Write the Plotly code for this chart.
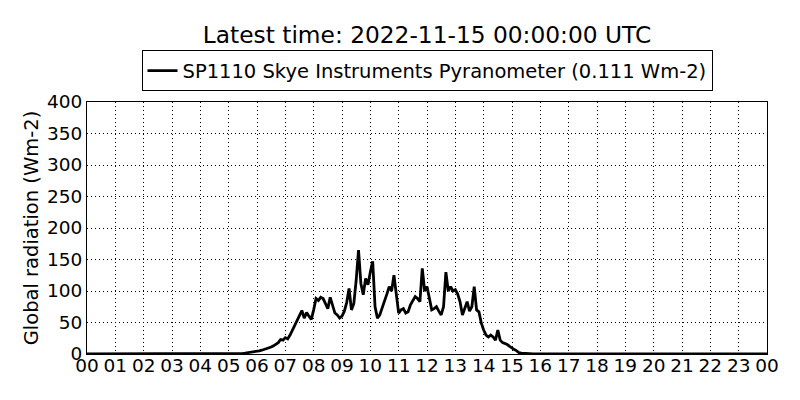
import pandas as pd
import plotly.graph_objects as go

# radiation readings, 5 minute steps from 05:00 to 16:00 (Wm-2)
day_start = "2022-11-14 05:00"
day_values = [
    0, 0, 0, 0, 0.5, 1, 1, 1.5, 2, 2, 2.5, 3,            # 05:00
    4, 5, 6, 7, 8, 10, 11, 13, 16, 18, 23, 22,           # 06:00
    26, 24, 30, 38, 44, 52, 62, 69, 57, 66, 60, 55,      # 07:00
    70, 88, 85, 90, 88, 80, 72, 90, 78, 65, 62, 57,      # 08:00
    60, 68, 82, 104, 70, 80, 117, 165, 112, 94, 120, 110,  # 09:00
    130, 147, 75, 57, 62, 72, 83, 95, 107, 100, 125, 90,   # 10:00
    65, 70, 72, 65, 67, 78, 85, 91, 88, 83, 136, 100,      # 11:00
    107, 88, 70, 72, 75, 68, 62, 75, 130, 100, 107, 100,   # 12:00
    102, 95, 83, 62, 72, 83, 68, 75, 107, 70, 67, 49,      # 13:00
    38, 30, 27, 30, 27, 22, 38, 22, 18, 17, 15, 12,        # 14:00
    9, 7, 5, 2, 1.5, 1, 0.5, 0, 0, 0, 0, 0,                # 15:00
    0,                                                     # 16:00
]
night_times = ["2022-11-14 00:00", "2022-11-15 00:00"]
night_values = [0, 0]

series_name = "SP1110 Skye Instruments Pyranometer (0.111 Wm-2)"
title_text = "Latest time: 2022-11-15 00:00:00 UTC"
y_ticks = [0, 50, 100, 150, 200, 250, 300, 350, 400]

times = pd.date_range(day_start, periods=len(day_values), freq="5min")
df = pd.DataFrame({"t": times, "v": day_values})
night = pd.DataFrame({"t": pd.to_datetime(night_times), "v": night_values})
df = pd.concat([df, night]).sort_values("t")

font = "DejaVu Sans"

fig = go.Figure()
fig.add_trace(go.Scatter(
    x=df["t"], y=df["v"], mode="lines", name=series_name,
    line=dict(color="black", width=2.8),
))

# page body has an 8px margin, so the margins are pulled in by 8px
fig.update_layout(
    width=800, height=400,
    paper_bgcolor="white", plot_bgcolor="white",
    margin=dict(l=79, r=41, t=94, b=54, autoexpand=False),
    font=dict(family=font, size=18.5, color="black"),
    title=dict(text=title_text, x=0.5, xanchor="center", xref="paper",
               y=0.9325, yanchor="middle", font=dict(size=23.3)),
    showlegend=True,
    legend=dict(x=0.5, xanchor="center", y=1.042, yanchor="bottom",
                orientation="h", bordercolor="black", borderwidth=1,
                bgcolor="white", font=dict(size=19.5),
                itemwidth=30),
)

fig.update_xaxes(
    type="date",
    range=["2022-11-14 00:00", "2022-11-15 00:00"],
    dtick=3600000, tickformat="%H", ticklabelstandoff=-5,
    showline=True, linecolor="black", linewidth=1, mirror=True,
    showgrid=True, gridcolor="black", gridwidth=1, griddash="1px,3px",
    ticks="", zeroline=False,
)
fig.update_yaxes(
    range=[0, 400], tickvals=y_ticks,
    showline=True, linecolor="black", linewidth=1, mirror=True,
    showgrid=True, gridcolor="black", gridwidth=1, griddash="1px,3px",
    ticks="", zeroline=False,
    title=dict(text="Global radiation (Wm-2)", standoff=3,
               font=dict(size=19.5)),
)

fig.write_html("out.html")
